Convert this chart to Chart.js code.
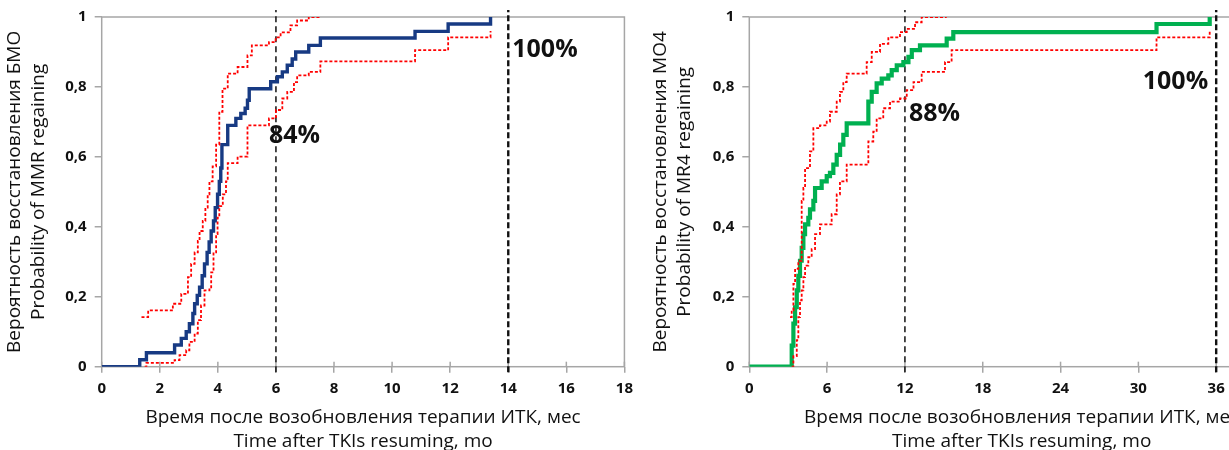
<!DOCTYPE html>
<html>
<head>
<meta charset="utf-8">
<script src="https://cdn.jsdelivr.net/npm/chart.js@4.4.1/dist/chart.umd.min.js"></script>
<style>
  html, body { margin: 0; padding: 0; background: #fff; overflow: hidden; }
  body { width: 1229px; height: 450px; position: relative; }
  canvas { position: absolute; top: 0; }
  #mmr { left: 0; }
  #mr4 { left: 640px; }
</style>
</head>
<body>
<canvas id="mmr" width="640" height="454"></canvas>
<canvas id="mr4" width="680" height="454"></canvas>
<script>
// left panel: MMR (БМО) regaining
const mmrTime = [0, 1.31, 1.54, 2.51, 2.74, 2.91, 3.02, 3.14, 3.20, 3.29, 3.37, 3.46, 3.54, 3.63, 3.70, 3.77, 3.85, 3.91, 3.99, 4.05, 4.10, 4.14, 4.34, 4.62, 4.79, 4.94, 5.02, 5.08, 5.82, 6.05, 6.22, 6.39, 6.56, 6.68, 7.13, 7.53, 10.79, 11.93, 13.39];
const mmrProb = [0, 0.02, 0.04, 0.062, 0.081, 0.10, 0.123, 0.152, 0.18, 0.204, 0.227, 0.26, 0.294, 0.327, 0.357, 0.388, 0.417, 0.455, 0.493, 0.53, 0.568, 0.635, 0.69, 0.71, 0.724, 0.739, 0.762, 0.795, 0.815, 0.829, 0.843, 0.862, 0.88, 0.90, 0.919, 0.94, 0.959, 0.98, 1.0];
const mmrUpTime = [1.37, 1.6, 2.45, 2.74, 2.97, 3.08, 3.2, 3.31, 3.37, 3.48, 3.57, 3.65, 3.71, 3.82, 3.94, 4.05, 4.16, 4.34, 4.68, 5.02, 5.17, 5.76, 5.99, 6.16, 6.5, 6.73, 7.13, 7.53];
const mmrUp = [0.142, 0.161, 0.18, 0.208, 0.256, 0.294, 0.327, 0.36, 0.388, 0.417, 0.455, 0.493, 0.53, 0.573, 0.635, 0.729, 0.795, 0.838, 0.857, 0.89, 0.919, 0.928, 0.942, 0.956, 0.976, 0.99, 1.0, 1.0];
const mmrLowTime = [1.48, 1.54, 2.51, 2.68, 2.91, 3.02, 3.2, 3.31, 3.42, 3.54, 3.71, 3.77, 3.85, 3.94, 3.99, 4.05, 4.17, 4.28, 4.34, 4.68, 5.02, 5.76, 6.0, 6.22, 6.39, 6.62, 6.73, 7.13, 7.53, 10.79, 11.93, 13.39];
const mmrLow = [0, 0.011, 0.019, 0.033, 0.047, 0.071, 0.095, 0.133, 0.175, 0.218, 0.227, 0.27, 0.327, 0.379, 0.426, 0.459, 0.493, 0.53, 0.582, 0.601, 0.69, 0.71, 0.734, 0.767, 0.786, 0.814, 0.833, 0.843, 0.873, 0.905, 0.942, 0.96];
const mmrMarks = [6, 14];
const mmrMarkText = ['84%', '100%'];
const mmrMarkY = [0.66, 0.905];

// right panel: MR4 (МО4) regaining
const mr4Time = [0, 3.14, 3.27, 3.4, 3.53, 3.66, 3.78, 3.91, 4.04, 4.17, 4.3, 4.55, 4.68, 4.94, 5.07, 5.58, 5.97, 6.22, 6.48, 6.74, 7.0, 7.25, 7.51, 9.18, 9.44, 9.82, 10.21, 10.72, 10.98, 11.37, 11.88, 12.27, 12.53, 13.16, 15.22, 15.73, 31.4, 35.5];
const mr4Prob = [0, 0, 0.06, 0.123, 0.17, 0.218, 0.26, 0.303, 0.34, 0.379, 0.407, 0.426, 0.45, 0.474, 0.511, 0.53, 0.545, 0.554, 0.578, 0.606, 0.635, 0.663, 0.696, 0.758, 0.786, 0.81, 0.824, 0.833, 0.848, 0.862, 0.871, 0.886, 0.905, 0.919, 0.938, 0.957, 0.98, 1.0];
const mr4UpTime = [3.14, 3.27, 3.4, 3.53, 3.78, 4.04, 4.17, 4.3, 4.68, 4.94, 5.45, 5.97, 6.22, 6.74, 6.99, 7.25, 7.51, 9.05, 9.44, 10.08, 10.72, 11.62, 12.14, 12.78, 13.29, 15.22];
const mr4Up = [0.142, 0.161, 0.237, 0.28, 0.303, 0.474, 0.511, 0.568, 0.616, 0.682, 0.69, 0.701, 0.729, 0.758, 0.786, 0.814, 0.838, 0.871, 0.9, 0.923, 0.942, 0.957, 0.966, 0.985, 1.0, 1.0];
const mr4LowTime = [3.27, 3.4, 3.66, 3.78, 3.91, 4.04, 4.17, 4.3, 4.55, 4.81, 5.07, 5.45, 6.35, 6.74, 6.99, 7.51, 9.18, 9.56, 9.82, 10.33, 10.85, 11.62, 12.14, 12.66, 13.29, 15.09, 15.6, 31.4, 35.5];
const mr4Low = [0, 0.03, 0.076, 0.142, 0.19, 0.218, 0.256, 0.289, 0.313, 0.336, 0.379, 0.407, 0.436, 0.493, 0.53, 0.578, 0.644, 0.672, 0.71, 0.739, 0.758, 0.767, 0.791, 0.814, 0.843, 0.871, 0.905, 0.942, 0.96];
const mr4Marks = [12, 36];
const mr4MarkText = ['88%', '100%'];
const mr4MarkY = [0.723, 0.814];

const yTickLabels = ['0', '0,2', '0,4', '0,6', '0,8', '1'];
const xTitle = ['Время после возобновления терапии ИТК, мес', 'Time after TKIs resuming, mo'];

const FONT = "'Open Sans', 'DejaVu Sans', sans-serif";
const GREY = '#a6a6a6';

function pairs(xs, ys) {
  return xs.map((x, i) => ({ x: x, y: ys[i] }));
}

// grey frame around plot + small tick marks on x axis inside
const framePlugin = {
  id: 'frame',
  beforeDatasetsDraw(chart) {
    const { ctx, chartArea: a, scales } = chart;
    ctx.save();
    ctx.strokeStyle = GREY;
    ctx.lineWidth = 1.5;
    ctx.strokeRect(a.left, a.top, a.right - a.left, a.bottom - a.top);
    scales.x.ticks.forEach(t => {
      const px = scales.x.getPixelForValue(t.value);
      ctx.beginPath();
      ctx.moveTo(px, a.bottom - 5);
      ctx.lineTo(px, a.bottom);
      ctx.stroke();
    });
    ctx.restore();
  }
};

const markLabelPlugin = {
  id: 'markLabels',
  afterDatasetsDraw(chart, args, opts) {
    const { ctx, scales } = chart;
    ctx.save();
    ctx.font = 'bold 25px ' + FONT;
    ctx.fillStyle = '#111';
    ctx.textBaseline = 'middle';
    opts.xs.forEach((x, i) => {
      const px = scales.x.getPixelForValue(x);
      const py = scales.y.getPixelForValue(opts.ys[i]);
      ctx.textAlign = opts.align[i];
      ctx.fillText(opts.text[i], px + opts.dx[i], py);
    });
    ctx.restore();
  }
};

function makeChart(id, p) {
  const datasets = [
    { data: pairs(p.upT, p.up), borderColor: '#ff0000', borderWidth: 1.8, borderDash: [3, 2] },
    { data: pairs(p.lowT, p.low), borderColor: '#ff0000', borderWidth: 1.8, borderDash: [3, 2] },
    { data: pairs(p.t, p.p), borderColor: p.color, borderWidth: p.width }
  ];
  p.marks.forEach((m, i) => {
    datasets.push({
      data: [{ x: m, y: -0.016 }, { x: m, y: 1.02 }],
      borderColor: '#111', borderWidth: i === 0 ? 1.5 : 2.4,
      borderDash: i === 0 ? [6, 4] : [6, 3], stepped: false, clip: false
    });
  });
  return new Chart(document.getElementById(id), {
    type: 'line',
    data: { datasets: datasets },
    options: {
      responsive: false,
      animation: false,
      devicePixelRatio: 1,
      layout: { padding: { left: p.padLeft, right: p.padRight, top: 14.7, bottom: 0 } },
      elements: {
        point: { radius: 0 },
        line: { stepped: true, tension: 0, borderCapStyle: 'butt', fill: false }
      },
      plugins: {
        legend: { display: false },
        tooltip: { enabled: false },
        markLabels: { xs: p.marks, ys: p.markY, text: p.markText, align: p.markAlign, dx: p.markDx }
      },
      scales: {
        x: {
          type: 'linear', min: 0, max: p.xMax,
          afterFit: s => { s.height = 87.3; },
          afterBuildTicks: s => { s.ticks = s.ticks.filter(t => t.value % p.xStep === 0 && t.value <= p.xLast); },
          border: { display: false },
          grid: { drawOnChartArea: false, tickLength: 6, color: GREY, lineWidth: 1.5 },
          ticks: { stepSize: p.xStep, padding: 7, color: '#111', font: { family: FONT, size: 15, weight: 'bold' } },
          title: { display: true, text: xTitle, color: '#111', padding: 0, font: { family: FONT, size: 19, weight: 500, lineHeight: 1.28 } }
        },
        y: {
          min: 0, max: 1,
          afterFit: s => { s.width = p.yWidth; },
          border: { display: false },
          grid: { drawOnChartArea: false, tickLength: 7, color: GREY, lineWidth: 1.5 },
          ticks: {
            stepSize: 0.2, padding: 8, color: '#111',
            font: { family: FONT, size: 15, weight: 'bold' },
            callback: (v, i) => yTickLabels[i]
          },
          title: { display: true, text: p.yTitle, color: '#111', padding: { top: 2, bottom: 0 }, font: { family: FONT, size: 19, weight: 500, lineHeight: 1.28 } }
        }
      }
    },
    plugins: [framePlugin, markLabelPlugin]
  });
}

makeChart('mmr', {
  t: mmrTime, p: mmrProb, upT: mmrUpTime, up: mmrUp, lowT: mmrLowTime, low: mmrLow,
  color: '#173a83', width: 3.4,
  marks: mmrMarks, markText: mmrMarkText, markY: mmrMarkY, markAlign: ['left', 'left'], markDx: [-7, 4],
  xMax: 18, xStep: 2, xLast: 18, padLeft: 0, padRight: 12.7, yWidth: 101.7,
  yTitle: ['Вероятность восстановления БМО', 'Probability of MMR regaining']
});

makeChart('mr4', {
  t: mr4Time, p: mr4Prob, upT: mr4UpTime, up: mr4Up, lowT: mr4LowTime, low: mr4Low,
  color: '#00b050', width: 4.2,
  marks: mr4Marks, markText: mr4MarkText, markY: mr4MarkY, markAlign: ['left', 'right'], markDx: [4, -8],
  xMax: 42, xStep: 6, xLast: 36, padLeft: 6, padRight: 26, yWidth: 103.3,
  yTitle: ['Вероятность восстановления МО4', 'Probability of MR4 regaining']
});
</script>
</body>
</html>
